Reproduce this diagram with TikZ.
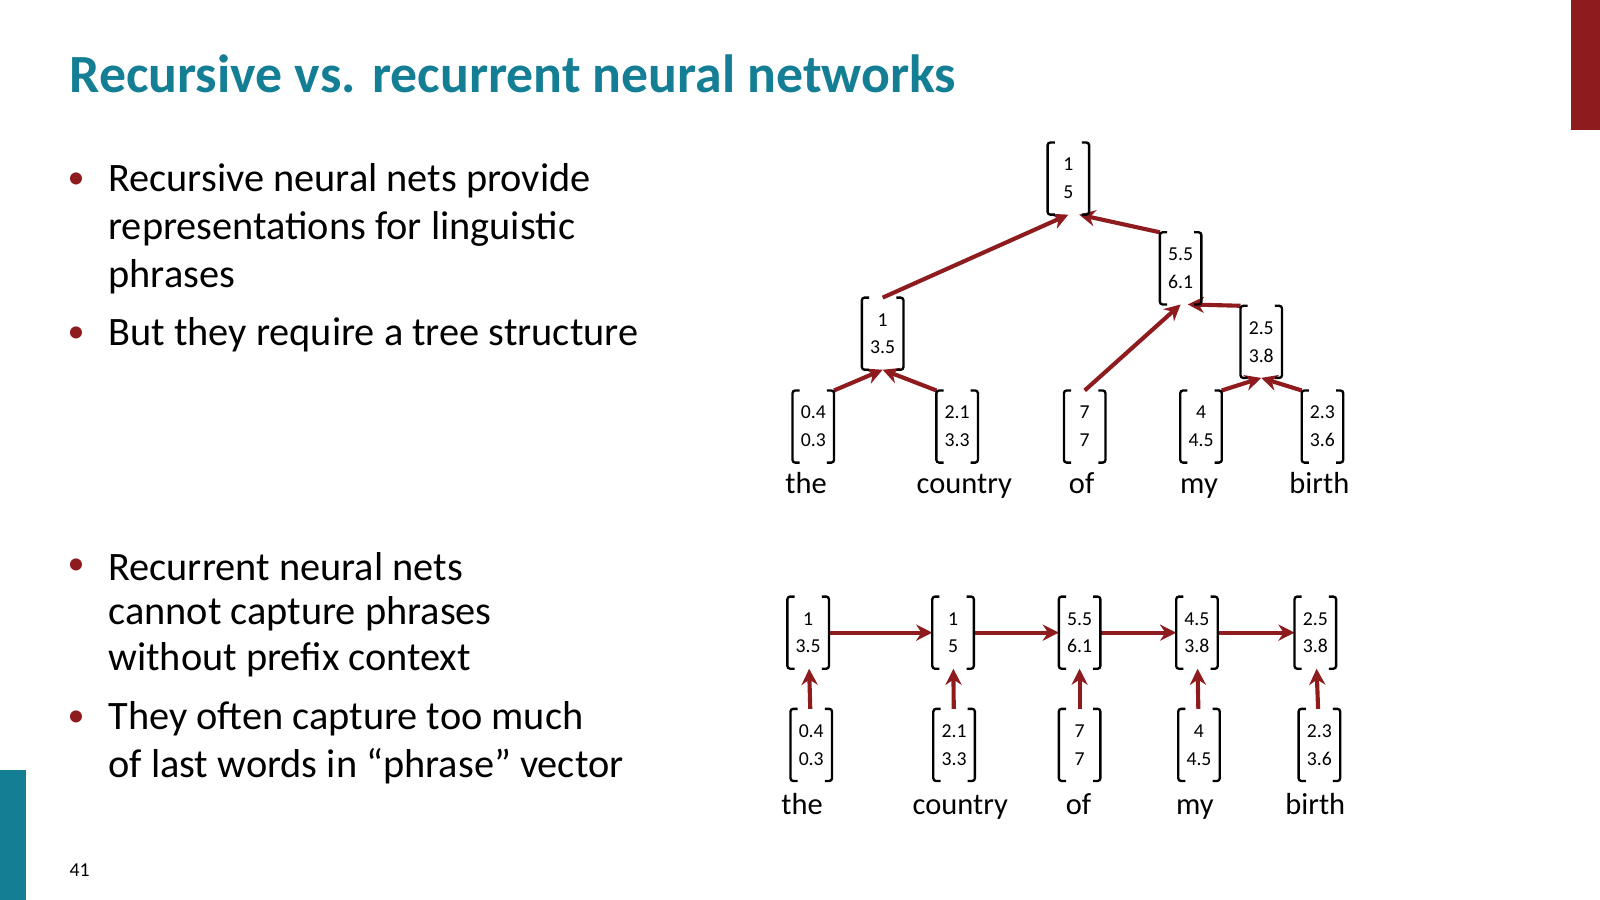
\documentclass[tikz,border=0pt]{standalone}
\usepackage{fontspec}
\setmainfont{Carlito}
\usetikzlibrary{positioning,arrows.meta}
\definecolor{ttl}{HTML}{137E94}
\definecolor{dred}{HTML}{8E1B1E}
\begin{document}
\begin{tikzpicture}[x=0.02cm, y=-0.02cm,
    vec/.style={align=center, font=\fontsize{11}{15.5}\selectfont, inner sep=0pt,
      minimum width=0.8cm, minimum height=1.4cm},
    brk/.style={draw=black, line width=1.3pt, rounded corners=1.5pt},
    word/.style={anchor=base, font=\fontsize{17}{20}\selectfont},
    rel/.style={-{Stealth[length=9pt,width=9pt]}, line width=2.3pt, draw=dred},
    bul/.style={anchor=west, font=\fontsize{22.5}{27}\selectfont, align=left},
    dot/.style={anchor=west, text=dred, font=\fontsize{19}{27}\selectfont}]

    \useasboundingbox (0,0) rectangle (1568,882);
    \fill[dred] (1540,0) rectangle (1568,127);
    \fill[ttl] (0,755) rectangle (25,882);
    \node[anchor=west, text=ttl, font=\fontsize{30}{34}\selectfont\bfseries] (title) at (62,72) {Recursive vs. recurrent neural networks};
    \node[anchor=west, font=\fontsize{11}{12}\selectfont] (page) at (62,853) {41};

    % Bullets
    \foreach \y in {177,328,555,704} \node[dot] at (60,\y) {•};
    \node[bul] (b1) at (100,177) {Recursive neural nets provide};
    \node[bul] (b1b) at (100,224) {representations for linguistic};
    \node[bul] (b1c) at (100,271) {phrases};
    \node[bul] (b2) at (100,328) {But they require a tree structure};
    \node[bul] (b3) at (100,555) {Recurrent neural nets};
    \node[bul] (b3b) at (100,601) {cannot capture phrases};
    \node[bul] (b3c) at (100,647) {without prefix context};
    \node[bul] (b4) at (100,704) {They often capture too much};
    \node[bul] (b4b) at (100,751) {of last words in “phrase” vector};

    % Tree
    \node[vec] (root) at (1047,175) {1\\5};
    \node[vec] (mybirthof) at (1157,263) {5.5\\6.1};
    \node[vec] (thecountry) at (865,327) {1\\3.5};
    \node[vec] (mybirth) at (1236,335) {2.5\\3.8};
    \node[vec] (tthe) at (797,418) {0.4\\0.3};
    \node[vec] (tcountry) at (938,418) {2.1\\3.3};
    \node[vec] (tof) at (1063,418) {7\\7};
    \node[vec] (tmy) at (1177,418) {4\\4.5};
    \node[vec] (tbirth) at (1296,418) {2.3\\3.6};
    \node[word] at (790,484) {the};
    \node[word] at (945,484) {country};
    \node[word] at (1060,484) {of};
    \node[word] at (1175,484) {my};
    \node[word] at (1293,484) {birth};

    \draw[rel] (tthe.north east) -- (thecountry.south);
    \draw[rel] (tcountry.north west) -- (thecountry.south);
    \draw[rel] (tmy.north east) -- (mybirth.south);
    \draw[rel] (tbirth.north west) -- (mybirth.south);
    \draw[rel] (tof.north) -- (mybirthof.south);
    \draw[rel] (mybirth.north west) -- ([xshift=4pt]mybirthof.south);
    \draw[rel] (thecountry.north) -- (root.south);
    \draw[rel] (mybirthof.north west) -- ([xshift=6pt]root.south);

    % Chain
    \node[vec] (h1) at (792,620) {1\\3.5};
    \node[vec] (h2) at (934,620) {1\\5};
    \node[vec] (h3) at (1058,620) {5.5\\6.1};
    \node[vec] (h4) at (1173,620) {4.5\\3.8};
    \node[vec] (h5) at (1289,620) {2.5\\3.8};
    \node[vec] (x1) at (795,730) {0.4\\0.3};
    \node[vec] (x2) at (935,730) {2.1\\3.3};
    \node[vec] (x3) at (1058,730) {7\\7};
    \node[vec] (x4) at (1175,730) {4\\4.5};
    \node[vec] (x5) at (1293,730) {2.3\\3.6};
    \node[word] at (786,798) {the};
    \node[word] at (941,798) {country};
    \node[word] at (1057,798) {of};
    \node[word] at (1171,798) {my};
    \node[word] at (1289,798) {birth};

    \foreach \i in {1,...,5} \draw[rel] (x\i) -- (h\i);
    \foreach \i/\j in {1/2,2/3,3/4,4/5} \draw[rel] (h\i) -- (h\j);

    % Brackets
    \foreach \n in {root,mybirthof,thecountry,mybirth,tthe,tcountry,tof,tmy,tbirth,h1,h2,h3,h4,h5,x1,x2,x3,x4,x5}
      \draw[brk] ([xshift=4pt]\n.north west) -- (\n.north west) -- (\n.south west) -- ([xshift=4pt]\n.south west)
        ([xshift=-4pt]\n.north east) -- (\n.north east) -- (\n.south east) -- ([xshift=-4pt]\n.south east);

\end{tikzpicture}
\end{document}
